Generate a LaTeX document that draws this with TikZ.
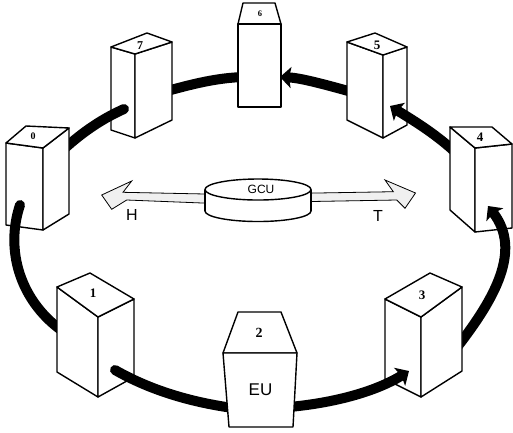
\documentclass[tikz,border=0pt]{standalone}
\usepackage{fontspec}
\setmainfont{Liberation Serif}
\setsansfont{Liberation Sans}
\usetikzlibrary{arrows.meta}
\begin{document}
\begin{tikzpicture}[x=1pt,y=-1pt,
  boxline/.style={draw=black,line width=1.4pt,fill=white,line join=round},
  ring/.style={line width=10pt,black,line cap=round},
  ringarrow/.style={line width=10pt,black,line cap=butt,-{Stealth[length=11pt,width=21pt,inset=2pt]}},
  num/.style={inner sep=0pt,font=\bfseries\fontsize{#1}{#1}\selectfont},
  lab/.style={inner sep=0pt,font=\sffamily\fontsize{#1}{#1}\selectfont},
  hollow/.style={draw=black,line width=0.8pt,fill=black!6,line join=miter}
]
\useasboundingbox (0,0) rectangle (513,432);
\fill[white] (0,0) rectangle (513,432);

% connector endpoints
\coordinate (c76a) at (167,91);   \coordinate (c76b) at (243,77);
\coordinate (c56a) at (352,92);   \coordinate (c56b) at (280,77);
\coordinate (c45a) at (454,151);  \coordinate (c45b) at (390,106);
\coordinate (c34a) at (458,346);  \coordinate (c34b) at (488,206);
\coordinate (c23a) at (289,407);  \coordinate (c23b) at (409,371);
\coordinate (c07a) at (64,149);   \coordinate (c07b) at (124,109);
\coordinate (c01a) at (20,205);   \coordinate (c01b) at (61,330);
\coordinate (c12a) at (115,370);  \coordinate (c12b) at (233,408);

% 7 -> 6 (behind both)
\draw[ring] (c76a) .. controls (193,84) and (216,78) .. (c76b);

% box 6
\draw[boxline] (243,3) -- (275,3) -- (281,24) -- (238,24) -- cycle;
\draw[boxline] (238,24) rectangle (281,107);
\node[num=8.5] (n6) at (260,14) {6};

% box 7
\draw[boxline] (111,47) -- (135,54) -- (135,138) -- (111,130) -- cycle;
\draw[boxline] (135,54) -- (172,42) -- (172,120) -- (135,138) -- cycle;
\draw[boxline] (111,47) -- (147,33) -- (172,42) -- (135,54) -- cycle;
\node[num=12] (n7) at (140,46) {7};

% 5 -> 6
\draw[ringarrow] (c56a) .. controls (330,86) and (302,78) .. (c56b);

% box 5
\draw[boxline] (347,42) -- (383,55) -- (383,138) -- (347,120) -- cycle;
\draw[boxline] (383,55) -- (407,47) -- (407,125) -- (383,138) -- cycle;
\draw[boxline] (347,42) -- (375,33) -- (407,47) -- (383,55) -- cycle;
\node[num=13] (n5) at (377,45) {5};

% 4 -> 5
\draw[ringarrow] (c45a) .. controls (433,132) and (411,119) .. (c45b);

% box 4
\draw[boxline] (450,127) -- (475,148) -- (475,232) -- (450,210) -- cycle;
\draw[boxline] (475,148) -- (512,144) -- (512,228) -- (475,232) -- cycle;
\draw[boxline] (450,127) -- (492,127) -- (512,144) -- (475,148) -- cycle;
\node[num=13] (n4) at (480,137) {4};

% 3 -> 4
\draw[ringarrow] (c34a) .. controls (495,298) and (522,250) .. (c34b);

% box 3
\draw[boxline] (385,299) -- (421,317) -- (421,397) -- (385,379) -- cycle;
\draw[boxline] (421,317) -- (462,287) -- (462,371) -- (421,397) -- cycle;
\draw[boxline] (385,299) -- (430,273) -- (462,287) -- (421,317) -- cycle;
\node[num=13] (n3) at (422,295) {3};

% 2 -> 3
\draw[ringarrow] (c23a) .. controls (333,403) and (375,392) .. (c23b);

% 0 -> 7
\draw[ring] (c07a) .. controls (85,130) and (104,118) .. (c07b);

% box 0
\draw[boxline] (6,143) -- (43,148) -- (43,230) -- (6,225) -- cycle;
\draw[boxline] (43,148) -- (69,128) -- (69,214) -- (43,230) -- cycle;
\draw[boxline] (6,143) -- (26,126) -- (69,128) -- (43,148) -- cycle;
\node[num=10] (n0) at (33,136) {0};

% 0 -> 1
\draw[ring] (c01a) .. controls (5,250) and (20,300) .. (c01b);

% box 1
\draw[boxline] (57,287) -- (98,317) -- (98,397) -- (57,372) -- cycle;
\draw[boxline] (98,317) -- (134,299) -- (134,377) -- (98,397) -- cycle;
\draw[boxline] (57,287) -- (90,273) -- (134,299) -- (98,317) -- cycle;
\node[num=13] (n1) at (93,293) {1};

% 1 -> 2
\draw[ring] (c12a) .. controls (150,390) and (190,402) .. (c12b);

% box 2 (EU)
\draw[boxline] (238,312) -- (281,312) -- (297,353) -- (223,353) -- cycle;
\draw[boxline] (223,353) -- (297,353) -- (293,427) -- (229,427) -- cycle;
\node[num=14] (n2) at (259,333) {2};
\node[lab=17] (eu) at (260.5,389.5) {EU};

% hollow arrows H and T
\draw[hollow] (215,194.2) -- (123,192.3) -- (131.7,181) -- (101.7,195) -- (111.7,209.3) -- (126.7,200) -- (215,203.5) -- cycle;
\draw[hollow] (300,193.3) -- (393.3,191.7) -- (385,180) -- (415.5,193) -- (405,208.3) -- (396.7,200) -- (300,201.7) -- cycle;

% GCU cylinder
\draw[fill=white,line width=1.4pt] (258,211) ellipse [x radius=53, y radius=10.5];
\fill[white] (205,189.5) rectangle (311,211);
\draw[line width=1.4pt] (205,189.5) -- (205,211) (311,189.5) -- (311,211);
\draw[fill=white,line width=1.4pt] (258,189.5) ellipse [x radius=53, y radius=10.5];
\node[lab=12] (gcu) at (261,189.5) {GCU};

\node[lab=16] (h) at (132,215) {H};
\node[lab=16] (t) at (378,216) {T};
\end{tikzpicture}
\end{document}
